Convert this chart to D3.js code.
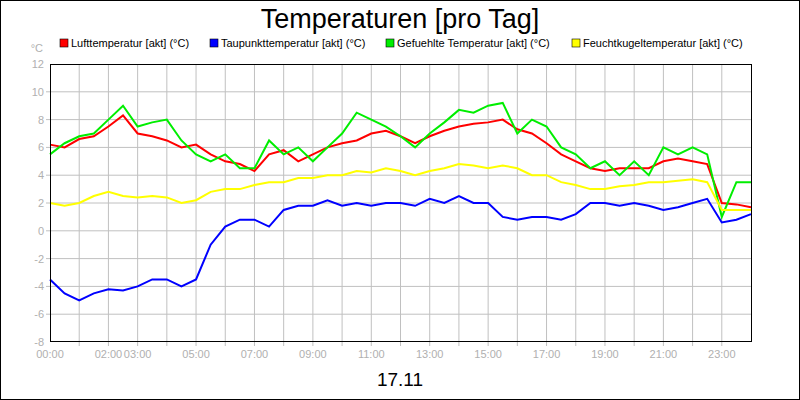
<!DOCTYPE html>
<html><head><meta charset="utf-8">
<script src="https://cdn.jsdelivr.net/npm/d3@7"></script>
<style>body{margin:0}svg{font-family:"Liberation Sans",Arial,sans-serif}</style>
</head><body><div id="viz"></div>
<script>
// halbstuendliche Werte 00:00 .. 24:00
var hours = d3.range(0, 24.01, 0.5)
var luft = [6.2,6.0,6.6,6.8,7.5,8.3,7.0,6.8,6.5,6.0,6.2,5.5,5.0,4.8,4.3,5.5,5.8,5.0,5.5,6.0,6.3,6.5,7.0,7.2,6.8,6.3,6.8,7.2,7.5,7.7,7.8,8.0,7.3,7.0,6.3,5.5,5.0,4.5,4.3,4.5,4.5,4.5,5.0,5.2,5.0,4.8,2.0,1.9,1.7]
var taupunkt = [-3.5,-4.5,-5.0,-4.5,-4.2,-4.3,-4.0,-3.5,-3.5,-4.0,-3.5,-1.0,0.3,0.8,0.8,0.3,1.5,1.8,1.8,2.2,1.8,2.0,1.8,2.0,2.0,1.8,2.3,2.0,2.5,2.0,2.0,1.0,0.8,1.0,1.0,0.8,1.2,2.0,2.0,1.8,2.0,1.8,1.5,1.7,2.0,2.3,0.6,0.8,1.2]
var gefuehlt = [5.5,6.3,6.8,7.0,8.0,9.0,7.5,7.8,8.0,6.5,5.5,5.0,5.5,4.5,4.5,6.5,5.5,6.0,5.0,6.0,7.0,8.5,8.0,7.5,6.8,6.0,7.0,7.8,8.7,8.5,9.0,9.2,7.0,8.0,7.5,6.0,5.5,4.5,5.0,4.0,5.0,4.0,6.0,5.5,6.0,5.5,1.0,3.5,3.5]
var feucht = [2.0,1.8,2.0,2.5,2.8,2.5,2.4,2.5,2.4,2.0,2.2,2.8,3.0,3.0,3.3,3.5,3.5,3.8,3.8,4.0,4.0,4.3,4.2,4.5,4.3,4.0,4.3,4.5,4.8,4.7,4.5,4.7,4.5,4.0,4.0,3.5,3.3,3.0,3.0,3.2,3.3,3.5,3.5,3.6,3.7,3.5,1.5,1.5,1.5]
var yTicks = [-8,-6,-4,-2,0,2,4,6,8,10,12]
var xLabels = [0,2,3,5,7,9,11,13,15,17,19,21,23]
var series = [
  {name: "Lufttemperatur [akt] (°C)", color: "#ff0000", values: luft, lx: 60},
  {name: "Taupunkttemperatur [akt] (°C)", color: "#0000ff", values: taupunkt, lx: 210},
  {name: "Gefuehlte Temperatur [akt] (°C)", color: "#00ee00", values: gefuehlt, lx: 386},
  {name: "Feuchtkugeltemperatur [akt] (°C)", color: "#ffff00", values: feucht, lx: 572}
]

var svg = d3.select("#viz").append("svg").attr("width", 800).attr("height", 400)
svg.append("rect").attr("x", 0.5).attr("y", 0.5).attr("width", 799).attr("height", 399)
  .attr("fill", "white").attr("stroke", "black")

var x = d3.scaleLinear().domain([0, 24]).range([50, 751])
var y = d3.scaleLinear().domain([-8, 12]).range([342, 64])

// gitter
svg.selectAll(".vg").data(d3.range(1, 24)).enter().append("line")
  .attr("x1", d => x(d)).attr("x2", d => x(d)).attr("y1", 64).attr("y2", 346)
  .attr("stroke", "#c0c0c0")
svg.selectAll(".hg").data(yTicks.slice(1, -1)).enter().append("line")
  .attr("x1", 46).attr("x2", 751).attr("y1", d => y(d)).attr("y2", d => y(d))
  .attr("stroke", "#c0c0c0")
svg.selectAll(".yt").data(yTicks).enter().append("text")
  .attr("x", 44).attr("y", d => y(d) + 4).attr("text-anchor", "end")
  .attr("font-size", 11).attr("fill", "#b0b0b0").text(d => d)
svg.append("text").attr("x", 43).attr("y", 52).attr("text-anchor", "end")
  .attr("font-size", 11).attr("fill", "#b0b0b0").text("°C")
svg.selectAll(".xt").data(xLabels).enter().append("text")
  .attr("x", d => x(d)).attr("y", 358).attr("text-anchor", "middle")
  .attr("font-size", 11).attr("fill", "#b0b0b0")
  .text(d => (d < 10 ? "0" : "") + d + ":00")

var line = d3.line().x((d, i) => x(hours[i])).y(d => y(d))
series.forEach(function(s) {
  svg.append("path").attr("d", line(s.values)).attr("fill", "none")
    .attr("stroke", s.color).attr("stroke-width", 2)
})
svg.append("rect").attr("x", 50.5).attr("y", 64.5).attr("width", 701).attr("height", 277)
  .attr("fill", "none").attr("stroke", "black")

// legende
series.forEach(function(s) {
  svg.append("rect").attr("x", s.lx).attr("y", 39).attr("width", 8).attr("height", 8)
    .attr("fill", s.color).attr("stroke", "black").attr("stroke-width", 0.6)
  svg.append("text").attr("x", s.lx + 11).attr("y", 47).attr("font-size", 11).text(s.name)
})

svg.append("text").attr("x", 400).attr("y", 28).attr("text-anchor", "middle")
  .attr("font-size", 27).text("Temperaturen [pro Tag]")
svg.append("text").attr("x", 400).attr("y", 386).attr("text-anchor", "middle")
  .attr("font-size", 19).text("17.11")
</script></body></html>
